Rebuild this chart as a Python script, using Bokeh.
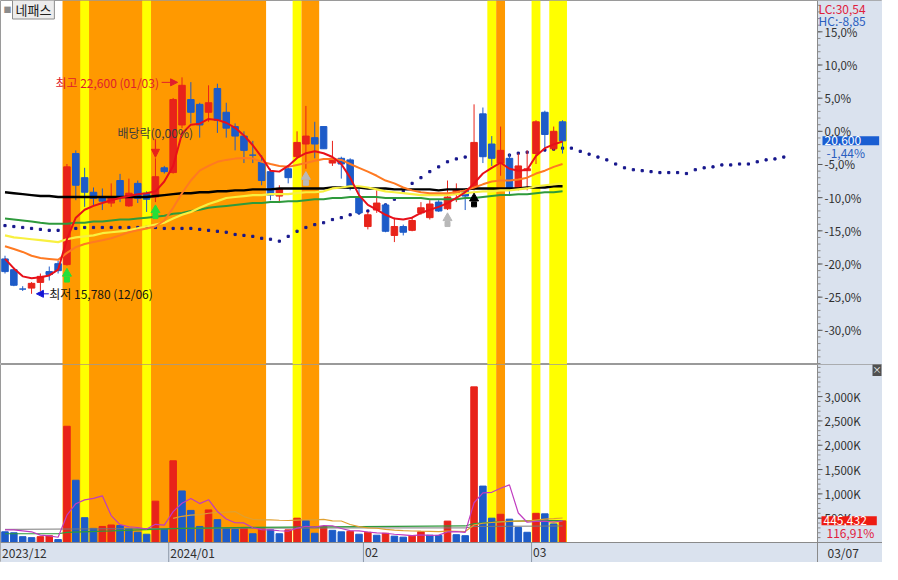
import numpy as np
from bokeh.plotting import figure
from bokeh.models import (Range1d, BoxAnnotation, Label, Arrow, NormalHead,
                          ColumnDataSource, Span)
from bokeh.layouts import column
from bokeh.embed import file_html
from bokeh.resources import INLINE
from bokeh.core.properties import value

# ---------------- data ----------------
stock_name = "네패스"
dec_days = [1, 4, 5, 6, 7, 8, 11, 12, 13, 14, 15, 18, 19, 20, 21, 22, 26, 27, 28]
jan_days = [2, 3, 4, 5, 8, 9, 10, 11, 12, 15, 16, 17, 18, 19, 22, 23, 24, 25, 26, 29, 30, 31]
feb_days = [1, 2, 5, 6, 7, 8, 13, 14, 15, 16, 19, 20, 21, 22, 23, 26, 27, 28, 29]
mar_days = [4, 5, 6, 7]
month_labels = ["2023/12", "2024/01", "02", "03"]

opens = [16880, 16540, 15930, 15960, 16140, 16480, 16730, 16700, 20200, 19440,
         18980, 18830, 18640, 19350, 18550, 19260, 18950, 18830, 19750, 19600,
         21100, 21900, 21750, 21500, 22250, 21500, 21050, 20750, 20150, 19930,
         19630, 18860, 19720, 20100, 20500, 20700, 21050, 19900, 20050, 20000,
         18830, 17900, 18420, 18580, 17620, 17900, 17780, 18330, 18180, 18670,
         18460, 18950, 19040, 19100, 21450, 20500, 19900, 20050, 19100, 19660,
         20200, 21500, 20350, 21200]
highs = [16980, 16610, 16020, 16150, 16420, 16640, 16820, 19870, 20300, 19750,
         19130, 19100, 19260, 19560, 19410, 19350, 19010, 20050, 19810, 21950,
         22600, 22450, 21800, 22350, 22400, 21800, 21150, 20900, 20600, 20150,
         19720, 19200, 19840, 20900, 21700, 21200, 21050, 20600, 20100, 20050,
         19100, 18360, 19040, 18640, 18180, 17960, 18210, 18670, 18730, 18730,
         19350, 19260, 19100, 21750, 21650, 20750, 21050, 20200, 20200, 20300,
         21250, 21550, 21050, 21250]
lows = [16420, 16020, 15870, 15780, 15870, 16200, 16420, 16670, 18730, 18520,
        18580, 18420, 18520, 18670, 18520, 18640, 18360, 18670, 19570, 19570,
        21000, 21150, 20700, 21200, 20850, 20700, 20300, 19900, 19900, 19200,
        18730, 18640, 19260, 20050, 19720, 20050, 20350, 19810, 19410, 19040,
        18270, 17810, 18330, 17720, 17410, 17620, 17750, 18270, 18120, 18360,
        18420, 18670, 18420, 19040, 19900, 19810, 19500, 18890, 19040, 19040,
        19870, 20350, 20300, 20200]
closes = [16480, 16050, 15930, 16110, 16330, 16390, 16510, 19780, 19200, 18980,
          18790, 18700, 18830, 18830, 18950, 18790, 18760, 19470, 19630, 21900,
          22350, 21500, 21100, 21800, 21250, 21000, 20750, 20300, 20150, 19350,
          18890, 19100, 19440, 20550, 20750, 20500, 20350, 20050, 19870, 19100,
          18330, 18270, 18640, 17750, 17900, 17720, 18090, 18490, 18610, 18390,
          18830, 19070, 18860, 20550, 20100, 20050, 20300, 19100, 19810, 19720,
          21200, 20800, 20900, 20600]
volumes = [220000, 200000, 120000, 100000, 120000, 140000, 60000, 2390000, 1280000, 510000,
           290000, 330000, 360000, 350000, 290000, 210000, 170000, 850000, 270000, 1680000,
           1060000, 660000, 330000, 670000, 470000, 290000, 270000, 310000, 180000, 280000,
           260000, 180000, 260000, 500000, 450000, 190000, 330000, 250000, 220000, 230000,
           170000, 210000, 150000, 190000, 130000, 110000, 130000, 220000, 150000, 145000,
           440000, 160000, 140000, 3200000, 1160000, 500000, 580000, 480000, 310000, 210000,
           600000, 590000, 381000, 445432]

# price moving-average lines
ma5_line = [16880, 16580, 16330, 16270, 16300, 16360, 16540, 17500, 18180, 18430,
            18550, 18640, 18730, 18800, 18860, 18920, 18950, 19010, 19320, 19810,
            20830, 21110, 21140, 21290, 21260, 21170, 21010, 20770, 20460, 20090,
            19660, 19630, 19810, 20060, 20210, 20270, 20210, 20090, 19870, 19440,
            18890, 18580, 18430, 18270, 18150, 18120, 18180, 18330, 18430, 18520,
            18640, 18800, 18980, 19260, 19570, 19750, 19910, 19720, 19660, 19690,
            20120, 20370, 20490, 20580]
orange_line = [17280, 17190, 17100, 16980, 16910, 16880, 16850, 17070, 17250, 17350,
               17410, 17470, 17530, 17620, 17720, 17780, 17840, 17900, 18090, 18490,
               18950, 19350, 19660, 19810, 19940, 20000, 20040, 20060, 20040, 19940,
               19870, 19810, 19780, 19840, 19900, 19970, 20030, 20030, 20000, 19870,
               19750, 19630, 19500, 19350, 19260, 19130, 19040, 18980, 18950, 18950,
               18950, 18980, 19040, 19130, 19230, 19320, 19350, 19350, 19380, 19440,
               19570, 19660, 19780, 19870]
yellow_line = [17620, 17560, 17530, 17500, 17470, 17440, 17410, 17500, 17560, 17590,
               17620, 17690, 17720, 17750, 17780, 17840, 17900, 17960, 18020, 18150,
               18270, 18360, 18490, 18610, 18700, 18800, 18830, 18860, 18890, 18890,
               18920, 18920, 18920, 18950, 18980, 18980, 19010, 19100, 19130, 19170,
               19170, 19130, 19070, 19010, 18980, 18950, 18920, 18890, 18890, 18890,
               18890, 18920, 18950, 18980, 19010, 19010, 19040, 19040, 19070, 19100,
               19170, 19200, 19230, 19260]
green_line = [18150, 18120, 18090, 18060, 18020, 17990, 17990, 17990, 18020, 18020,
              18060, 18060, 18090, 18120, 18120, 18150, 18180, 18210, 18240, 18300,
              18330, 18390, 18430, 18490, 18520, 18550, 18580, 18610, 18640, 18640,
              18670, 18670, 18700, 18700, 18730, 18760, 18760, 18800, 18800, 18830,
              18830, 18830, 18830, 18800, 18800, 18800, 18800, 18800, 18760, 18760,
              18760, 18760, 18800, 18800, 18830, 18860, 18890, 18890, 18920, 18920,
              18950, 18980, 18980, 19010]
black_line = [18980, 18950, 18920, 18890, 18860, 18860, 18830, 18830, 18830, 18830,
              18830, 18830, 18830, 18830, 18830, 18830, 18830, 18860, 18890, 18920,
              18950, 18950, 18980, 18980, 19010, 19010, 19040, 19040, 19070, 19070,
              19070, 19100, 19100, 19100, 19100, 19100, 19100, 19130, 19130, 19130,
              19130, 19100, 19100, 19100, 19070, 19070, 19070, 19070, 19070, 19040,
              19070, 19070, 19070, 19100, 19100, 19100, 19100, 19100, 19100, 19130,
              19130, 19130, 19170, 19170]
# leading (forward-shifted) dotted line, 25 sessions beyond the last candle
lead_dots = [17930, 17900, 17870, 17840, 17810, 17780, 17780, 17810, 17840, 17870,
             17870, 17870, 17870, 17870, 17870, 17870, 17870, 17870, 17840, 17840,
             17840, 17840, 17810, 17780, 17750, 17720, 17650, 17620, 17590, 17530,
             17500, 17440, 17590, 17750, 17870, 17960, 18020, 18120, 18180, 18270,
             18330, 18390, 18520, 18580, 18760, 19010, 19260, 19440, 19630, 19780,
             19940, 20030, 20090, 20120, 20150, 20150, 20180, 20150, 20210, 20240,
             20270, 20310, 20340, 20370, 20370, 20270, 20180, 20090, 20000, 19870,
             19750, 19690, 19660, 19630, 19600, 19600, 19600, 19570, 19690, 19750,
             19780, 19840, 19840, 19870, 19870, 19940, 20000, 20030, 20090]

# volume averages (head of the 5-day one and the long ones)
vol_ma5_head = [260000, 260000, 240000, 220000]
vol_ma60_idx = [0, 6, 7, 12, 20, 28, 36, 44, 52, 53, 56, 60, 63]
vol_ma60 = [180000, 180000, 210000, 240000, 290000, 310000, 320000, 330000,
            340000, 390000, 430000, 450000, 450000]
vol_ma120_idx = [0, 20, 40, 52, 53, 63]
vol_ma120 = [270000, 290000, 300000, 300000, 330000, 340000]

# signal bands (session index ranges)
band_start = [6.5, 8.5, 15.5, 32.5, 33.5, 54.5, 55.5, 59.5, 61.5]
band_end = [29.5, 9.5, 16.5, 33.5, 35.5, 55.5, 56.5, 60.5, 63.5]
band_kind = ["orange", "yellow", "yellow", "yellow", "orange", "yellow", "orange", "yellow", "yellow"]

buy_idx = [7, 17]
watch_idx = [34, 50]
cross_idx = [53]
exdiv_idx = 17
exdiv_text = "배당락(0,00%)"

pct_ticks = [15, 10, 5, 0, -5, -10, -15, -20, -25, -30]
pct_labels = ["15,0%", "10,0%", "5,0%", "0,0%", "-5,0%", "-10,0%", "-15,0%",
              "-20,0%", "-25,0%", "-30,0%"]
vol_ticks = [500000, 1000000, 1500000, 2000000, 2500000, 3000000]
vol_labels = ["500K", "1,000K", "1,500K", "2,000K", "2,500K", "3,000K"]

# ---------------- derived ----------------
N = len(closes)
xs = list(range(N))
base = closes[-2]
last = closes[-1]
i_hi = int(np.argmax(highs))
i_lo = int(np.argmin(lows))
hi, lo = highs[i_hi], lows[i_lo]
dates = [f"{m:02d}/{d:02d}" for m, days in ((12, dec_days), (1, jan_days), (2, feb_days), (3, mar_days))
         for d in days]
month_len = [len(dec_days), len(jan_days), len(feb_days), len(mar_days)]
month_start = [float(v) for v in np.cumsum([0] + month_len[:-1]) - 0.5]


def fmt_num(v):
    return f"{v:.2f}".replace(".", ",")


lc = (last / lo - 1) * 100
hc = (last / hi - 1) * 100
chg = (last / base - 1) * 100
vratio = volumes[-1] / volumes[-2] * 100

vol_ma5 = list(vol_ma5_head) + [float(np.mean(volumes[i - 4:i + 1])) for i in range(4, N)]
vol_ma20_x = list(range(19, N))
vol_ma20 = [float(np.mean(volumes[i - 19:i + 1])) for i in vol_ma20_x]

price_ticks = [base + base * t // 100 for t in pct_ticks]
price_minor = [base + base * t // 100 for t in range(-35, 20)]
vol_minor = list(range(100000, 3600001, 100000))

# ---------------- style / geometry ----------------
FONT = "Noto Sans CJK KR"
RED = "#E8231A"
BLUE = "#1D5BC8"
AXBG = "#DAE2EE"
AXC = "#8A8A8A"
HI_RED = "#E0202C"
band_col = {"orange": "#FF9900", "yellow": "#FFFF00"}

W = 882
CHART_W = 817
PH, VHT, DATE_H = 364, 198, 20
PXU = 1 / 8.85                 # index units per pixel
XS = -4.5 * PXU
X1 = XS + CHART_W * PXU        # right edge of the chart area (axis line)
XE = XS + W * PXU
Y0, Y1 = 13553, 25022
PY = (Y1 - Y0) / PH
V1 = 3660000
PV = V1 / (VHT - DATE_H)
VB = -DATE_H * PV

xr = Range1d(XS, XE)


def make_fig(height, yr):
    f = figure(width=W, height=height, x_range=xr, y_range=yr,
               x_axis_location=None, y_axis_location=None,
               output_backend="svg", toolbar_location=None,
               min_border=0, min_border_left=0, min_border_right=0,
               min_border_top=0, min_border_bottom=0)
    f.background_fill_color = "white"
    f.border_fill_color = "white"
    f.outline_line_color = "#9A9A9A"
    f.grid.visible = False
    f.add_layout(BoxAnnotation(left=X1, fill_color=AXBG, fill_alpha=1.0, line_alpha=0,
                               level="underlay"))
    return f


def lab(fig, x, y, text, **kw):
    d = dict(text_font=FONT, text_font_size="12px", text_baseline="middle",
             text_align="left", text_color="#202020")
    d.update(kw)
    fig.add_layout(Label(x=x, y=y, text=text, **d))


def right_axis(fig, ticks, minor, labels, unit):
    fig.add_layout(Span(location=X1, dimension="height", line_color=AXC, line_width=1))
    fig.segment(x0=X1, y0=minor, x1=X1 + 3 * PXU, y1=minor, line_color=AXC, line_width=1)
    fig.segment(x0=X1, y0=ticks, x1=X1 + 5 * PXU, y1=ticks, line_color="#5A5A5A", line_width=1)
    fig.text(x=X1 + 7 * PXU, y=ticks, text=labels, text_font=value(FONT),
             text_font_size="11.5px", text_baseline="middle", text_align="left",
             text_color="#303030")


# ---------------- price panel ----------------
p = make_fig(PH, Range1d(Y0, Y1))
for s, e, k in zip(band_start, band_end, band_kind):
    p.add_layout(BoxAnnotation(left=s, right=e, fill_color=band_col[k], fill_alpha=1.0,
                               line_alpha=0, level="underlay"))
right_axis(p, price_ticks, price_minor, pct_labels, PY)

p.scatter(list(range(len(lead_dots))), lead_dots, marker="square", size=2.2,
          color="#16168C")

cs = ColumnDataSource(dict(
    x=xs, h=highs, l=lows,
    top=[max(o, c) for o, c in zip(opens, closes)],
    bot=[min(o, c) for o, c in zip(opens, closes)],
    col=[RED if c > o else BLUE for o, c in zip(opens, closes)]))
p.segment("x", "h", "x", "l", source=cs, color="col", line_width=1)
p.vbar(x="x", width=0.74, top="top", bottom="bot", source=cs,
       fill_color="col", line_color="col", line_width=1)

p.line(xs, black_line, color="#000000", line_width=2.4)
p.line(xs, green_line, color="#2E9A3C", line_width=2)
p.line(xs, yellow_line, color="#F8F040", line_width=2.2)
p.line(xs, orange_line, color="#FF7A22", line_width=2)
p.line(xs, ma5_line, color="#E8101A", line_width=2)


def arrow_up(idx, color):
    p.scatter(idx, [lows[i] - 14 * PY for i in idx], marker="square", size=5, color=color)
    p.scatter(idx, [lows[i] - 8 * PY for i in idx], marker="triangle", size=9, color=color)


arrow_up(buy_idx, "#22E03A")
arrow_up(watch_idx, "#B8B8B8")
arrow_up(cross_idx, "#000000")

# high / low / ex-dividend annotations
lab(p, i_hi - 2.6, hi - 5 * PY, f"최고 {hi:,} ({dates[i_hi]})", text_align="right",
    text_color=HI_RED)
p.add_layout(Arrow(x_start=i_hi - 2.3, y_start=hi - 5 * PY, x_end=i_hi - 0.5, y_end=hi - 5 * PY,
                   line_color=HI_RED, line_width=1,
                   end=NormalHead(size=7, fill_color=HI_RED, line_color=HI_RED)))
lab(p, i_lo + 2.0, lo, f"최저 {lo:,} ({dates[i_lo]})", text_color="#141414")
p.add_layout(Arrow(x_start=i_lo + 1.95, y_start=lo, x_end=i_lo + 0.55, y_end=lo,
                   line_color="#1515D5", line_width=1,
                   end=NormalHead(size=7, fill_color="#1515D5", line_color="#1515D5")))
lab(p, exdiv_idx - 4.3, highs[exdiv_idx] + 26 * PY, exdiv_text, text_color="#3C3C3C")
p.add_layout(Arrow(x_start=exdiv_idx, y_start=highs[exdiv_idx] + 19 * PY,
                   x_end=exdiv_idx, y_end=highs[exdiv_idx] + 1 * PY,
                   line_color=RED, line_width=1.2,
                   end=NormalHead(size=8, fill_color=RED, line_color=RED)))

# name box
lab(p, XS + 3 * PXU, Y1 - 9 * PY, "■", text_color="#8C8C8C", text_font_size="8px")
lab(p, XS + 12 * PXU, Y1 - 9 * PY, stock_name, text_font_size="13px",
    background_fill_color="#ECECEC", border_line_color="#8C8C8C",
    padding=dict(left=3, right=3, top=0, bottom=0))

# right-side price info
lab(p, X1 + 1 * PXU, Y1 - 8 * PY, f"LC:{fmt_num(lc)}", text_color="#E0203C")
lab(p, X1 + 1 * PXU, Y1 - 20 * PY, f"HC:{fmt_num(hc)}", text_color="#2A5EC0")
lab(p, X1 + 5 * PXU, last, f"{last:,}", text_color="white", background_fill_color="#1A5ED2",
    padding=dict(left=2, right=18, top=0, bottom=0))
lab(p, X1 + 9 * PXU, last - 12 * PY, fmt_num(chg) + "%", text_color="#2A5EC0")

# ---------------- volume panel ----------------
v = make_fig(VHT, Range1d(VB, V1))
for s, e, k in zip(band_start, band_end, band_kind):
    v.add_layout(BoxAnnotation(left=s, right=e, bottom=0, fill_color=band_col[k], fill_alpha=1.0,
                               line_alpha=0, level="underlay"))
v.add_layout(BoxAnnotation(top=0, fill_color=AXBG, fill_alpha=1.0, line_alpha=0,
                           level="underlay"))
right_axis(v, vol_ticks, vol_minor, vol_labels, PV)
v.add_layout(Span(location=0, dimension="width", line_color=AXC, line_width=1))
seps = month_start[1:]
v.segment(x0=seps, y0=0, x1=seps, y1=VB, line_color="#8C98A8", line_width=1)

vcol = [BLUE] + [RED if volumes[i] > volumes[i - 1] else BLUE for i in range(1, N)]
v.vbar(x=xs, width=0.74, top=volumes, bottom=0, color=vcol)
v.line(vol_ma120_idx, vol_ma120, color="#7A7A7A", line_width=1)
v.line(vol_ma60_idx, vol_ma60, color="#2E9A3C", line_width=1.2)
v.line(vol_ma20_x, vol_ma20, color="#E0A030", line_width=1.2)
v.line(xs, vol_ma5, color="#C03CC0", line_width=1.2)

lab(v, X1 + 4 * PXU, volumes[-1], f"{volumes[-1]:,}", text_color="white",
    background_fill_color="#EE1B12", padding=dict(left=2, right=10, top=0, bottom=0))
lab(v, X1 + 9 * PXU, volumes[-1] - 12 * PV, fmt_num(vratio) + "%", text_color="#E0203C")
lab(v, X1 + 55 * PXU, V1 - 5 * PV, "×", text_color="white", text_font_size="9px",
    background_fill_color="#505050")

for t, txt in zip(month_start, month_labels):
    lab(v, max(t, XS) + 1.5 * PXU, VB / 2, txt, text_color="#303030")
lab(v, X1 + 10 * PXU, VB / 2, dates[-1], text_color="#303030")

layout = column(p, v, spacing=0)
open("out.html", "w").write(file_html(layout, INLINE))
